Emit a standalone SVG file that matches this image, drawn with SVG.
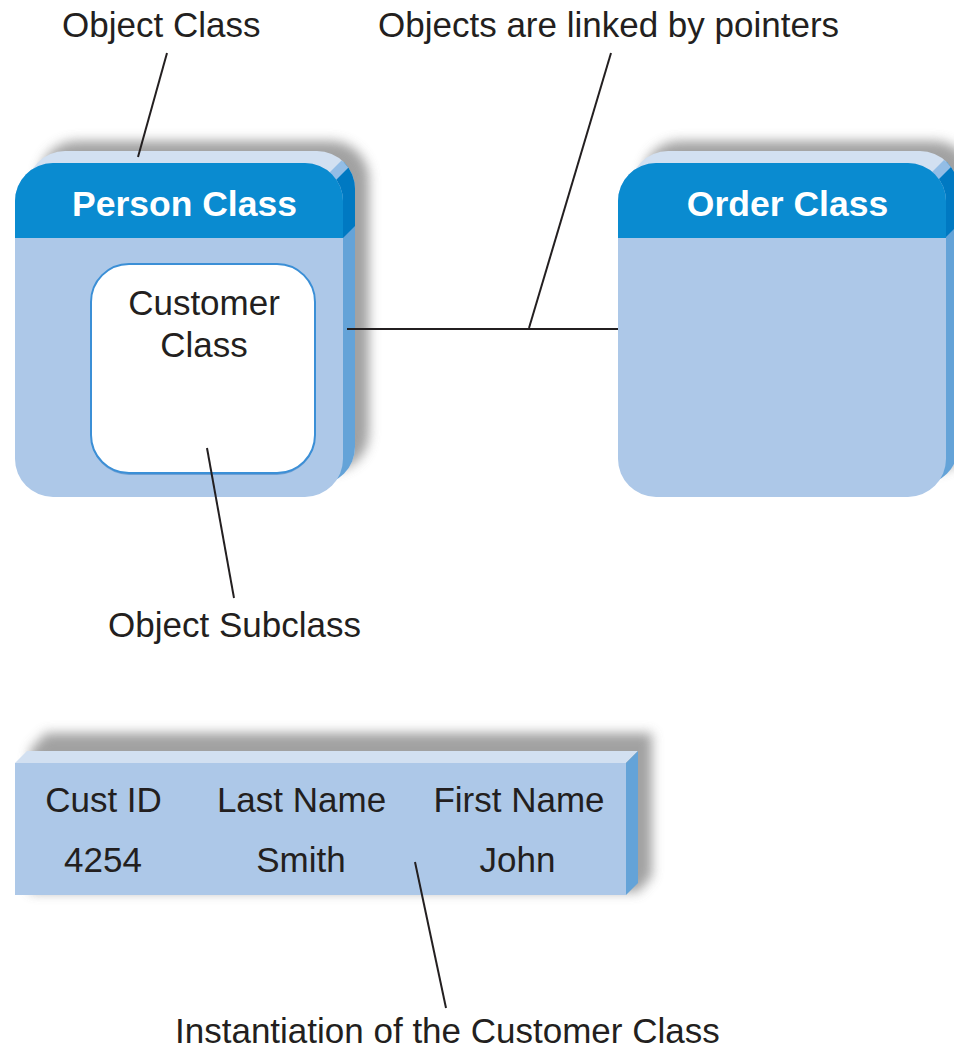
<svg xmlns="http://www.w3.org/2000/svg" width="954" height="1048" viewBox="0 0 954 1048">
<style>
.lbl{font-family:"Liberation Sans",Arial,sans-serif;font-size:35px;fill:#231f20}
.hdr{font-family:"Liberation Sans",Arial,sans-serif;font-size:35.5px;font-weight:bold;fill:#ffffff;text-anchor:middle}
.mid{text-anchor:middle}
.top{fill:#d2e0f1}
.side{fill:#64a3d8}
.hside{fill:#0079c2}
.edge{fill:#93bde6}
.front{fill:#adc8e8}
.head{fill:#0a8bd0}
.shadow{fill:#8a8a8a;opacity:0.8}
.line{stroke:#231f20;stroke-width:2;fill:none}
</style>
<defs>
<filter id="blur" x="-20%" y="-20%" width="140%" height="140%"><feGaussianBlur stdDeviation="6"/></filter>
<clipPath id="cpSideP"><polygon points="300,206 560,-54 700,-54 700,700 300,700"/></clipPath>
<clipPath id="cpEdgeP"><polygon points="296,206 556,-54 570,-54 310,206"/></clipPath>
<clipPath id="cpHSideP"><polygon points="300,206 560,-54 635,-54 300,281"/></clipPath>
<clipPath id="cpHeadP"><rect x="0" y="140" width="380" height="98"/></clipPath>
<clipPath id="cpSideO"><polygon points="903,205 1163,-55 1300,-55 1300,700 903,700"/></clipPath>
<clipPath id="cpEdgeO"><polygon points="899,205 1159,-55 1173,-55 913,205"/></clipPath>
<clipPath id="cpHSideO"><polygon points="903,205 1163,-55 1238,-55 903,280"/></clipPath>
<clipPath id="cpHeadO"><rect x="600" y="140" width="400" height="98"/></clipPath>
</defs>

<g id="person-class">
<rect class="shadow" x="39" y="141" width="330" height="330" rx="38" filter="url(#blur)"/>
<rect class="top" x="27" y="151" width="328" height="334" rx="38"/>
<rect class="side" x="27" y="151" width="328" height="334" rx="38" clip-path="url(#cpSideP)"/>
<rect class="hside" x="27" y="151" width="328" height="334" rx="38" clip-path="url(#cpHSideP)"/>
<rect class="edge" x="27" y="151" width="328" height="334" rx="38" clip-path="url(#cpEdgeP)"/>
<rect class="front" x="15" y="163" width="328" height="334" rx="38"/>
<rect class="head" x="15" y="163" width="328" height="334" rx="38" clip-path="url(#cpHeadP)"/>
<text class="hdr" x="184.5" y="216">Person Class</text>
</g>

<g id="customer-class">
<rect x="91" y="266" width="224" height="209" rx="38" fill="#6f9fd3"/>
<rect x="91" y="264" width="224" height="209" rx="38" fill="#ffffff" stroke="#3b8fd6" stroke-width="2"/>
<text class="lbl mid" x="204" y="315">Customer</text>
<text class="lbl mid" x="204" y="357">Class</text>
</g>

<g id="order-class">
<rect class="shadow" x="642" y="141" width="330" height="330" rx="38" filter="url(#blur)"/>
<rect class="top" x="630" y="151" width="328" height="334" rx="38"/>
<rect class="side" x="630" y="151" width="328" height="334" rx="38" clip-path="url(#cpSideO)"/>
<rect class="hside" x="630" y="151" width="328" height="334" rx="38" clip-path="url(#cpHSideO)"/>
<rect class="edge" x="630" y="151" width="328" height="334" rx="38" clip-path="url(#cpEdgeO)"/>
<rect class="front" x="618" y="163" width="328" height="334" rx="38"/>
<rect class="head" x="618" y="163" width="328" height="334" rx="38" clip-path="url(#cpHeadO)"/>
<text class="hdr" x="787.5" y="216">Order Class</text>
</g>

<g id="customer-instance">
<polygon class="shadow" points="46,733 652,733 652,876 638,892 30,892 30,750" filter="url(#blur)"/>
<polygon class="top" points="15,763 27,751 638,751 626,763"/>
<polygon class="side" points="626,763 638,751 638,883 626,895"/>
<rect class="front" x="15" y="763" width="611" height="132"/>
<text class="lbl mid" x="103.5" y="812">Cust ID</text>
<text class="lbl mid" x="301.5" y="812">Last Name</text>
<text class="lbl mid" x="519" y="812">First Name</text>
<text class="lbl mid" x="103" y="872">4254</text>
<text class="lbl mid" x="301" y="872">Smith</text>
<text class="lbl mid" x="517.5" y="872">John</text>
</g>

<g id="label-object-class"><text class="lbl" x="62" y="37">Object Class</text></g>
<g id="label-pointers"><text class="lbl" x="378" y="37">Objects are linked by pointers</text></g>
<g id="label-subclass"><text class="lbl" x="108" y="637">Object Subclass</text></g>
<g id="label-instantiation"><text class="lbl" x="175" y="1043">Instantiation of the Customer Class</text></g>

<g id="connectors">
<line class="line" x1="347" y1="329" x2="618" y2="329" stroke-width="2.5"/>
<line class="line" x1="167" y1="53" x2="138" y2="157"/>
<line class="line" x1="611" y1="53" x2="529" y2="328"/>
<line class="line" x1="207" y1="448" x2="234" y2="598"/>
<line class="line" x1="415" y1="862" x2="446" y2="1008"/>
</g>
</svg>
